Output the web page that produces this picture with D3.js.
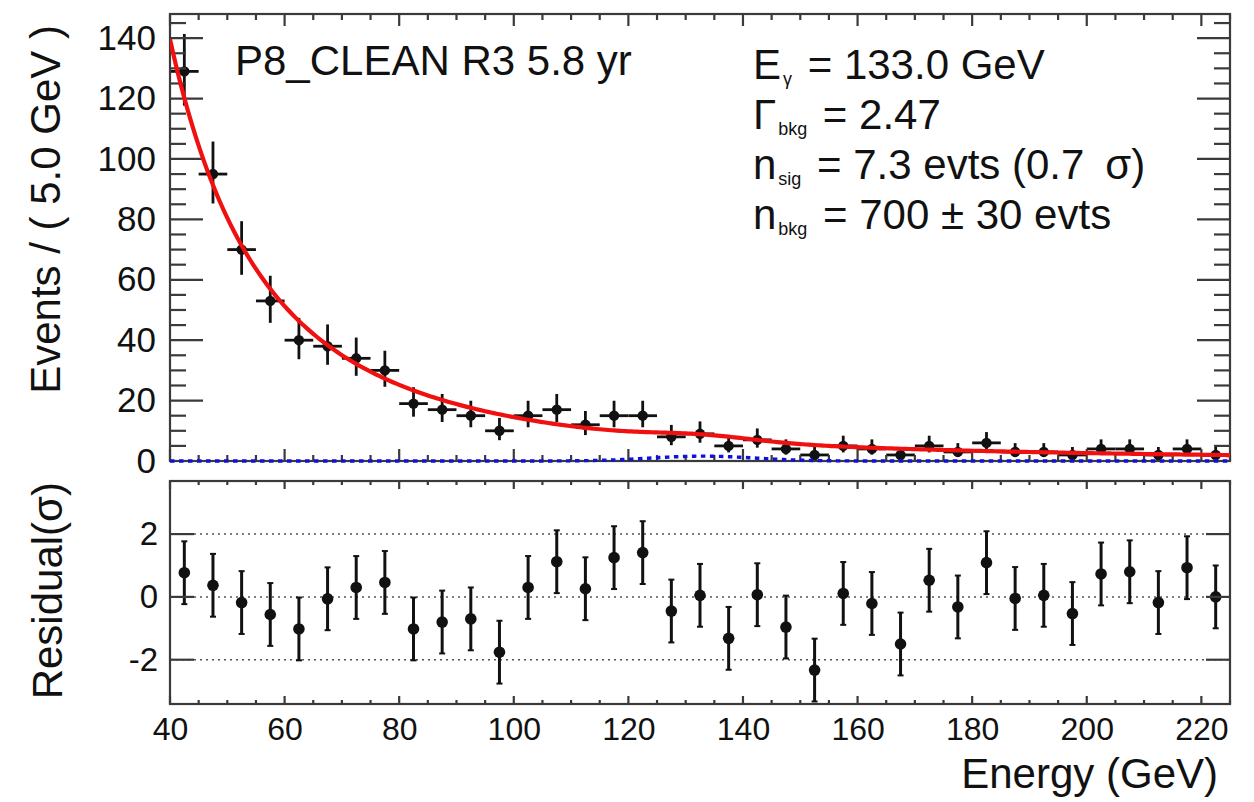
<!DOCTYPE html>
<html>
<head>
<meta charset="utf-8">
<script src="https://cdn.jsdelivr.net/npm/d3@7"></script>
<style>
  html, body { margin: 0; padding: 0; background: #fff; }
  svg { display: block; font-family: "Liberation Sans", Arial, Helvetica, sans-serif; }
</style>
</head>
<body>
<svg id="chart" width="1254" height="802"></svg>
<script>
// Binned photon energy spectrum (5 GeV bins)
const binCenters = [42.5, 47.5, 52.5, 57.5, 62.5, 67.5, 72.5, 77.5, 82.5, 87.5,
  92.5, 97.5, 102.5, 107.5, 112.5, 117.5, 122.5, 127.5, 132.5, 137.5,
  142.5, 147.5, 152.5, 157.5, 162.5, 167.5, 172.5, 177.5, 182.5, 187.5,
  192.5, 197.5, 202.5, 207.5, 212.5, 217.5, 222.5];
const counts = [129, 95, 70, 53, 40, 38, 34, 30, 19, 17,
  15, 10, 15, 17, 12, 15, 15, 8, 9, 5,
  7, 4, 2, 5, 4, 2, 5, 3, 6, 3,
  3, 2, 4, 4, 2, 4, 2];
// Poisson 68% interval (lower / upper)
const errLow = [11.35, 9.73, 8.35, 7.26, 6.30, 6.14, 5.79, 5.42, 4.33, 4.08,
  3.83, 3.11, 3.83, 4.08, 3.42, 3.83, 3.83, 2.77, 2.94, 2.16,
  2.58, 1.91, 1.29, 2.16, 1.91, 1.29, 2.16, 1.63, 2.38, 1.63,
  1.63, 1.29, 1.91, 1.91, 1.29, 1.91, 1.29];
const errHigh = [12.39, 10.77, 9.40, 8.33, 7.39, 7.22, 6.88, 6.51, 5.44, 5.20,
  4.95, 4.26, 4.95, 5.20, 4.55, 4.95, 4.95, 3.95, 4.11, 3.38,
  3.77, 3.16, 2.64, 3.38, 3.16, 2.64, 3.38, 2.92, 3.58, 2.92,
  2.92, 2.64, 3.16, 3.16, 2.64, 3.16, 2.64];
// Pull of each bin with respect to the fit
const residuals = [0.77, 0.37, -0.18, -0.56, -1.02, -0.06, 0.30, 0.46, -1.02, -0.80,
  -0.70, -1.76, 0.30, 1.12, 0.26, 1.25, 1.41, -0.45, 0.05, -1.32,
  0.07, -0.96, -2.33, 0.11, -0.21, -1.50, 0.53, -0.32, 1.09, -0.05,
  0.05, -0.53, 0.73, 0.80, -0.18, 0.93, 0.00];

// Fit results
const eGamma = 133.0;     // line energy (GeV)
const gammaBkg = 2.47;    // background spectral index
const nSig = 7.3;         // fitted signal events
const nBkg = 700;         // fitted background events
const sigmaE = 9.0;       // energy resolution at the line (GeV)
const binWidth = 5.0;
const eMin = 40, eMax = 225;

const xTicks = [40, 60, 80, 100, 120, 140, 160, 180, 200, 220];
const yTicksTop = [0, 20, 40, 60, 80, 100, 120, 140];
const yTicksRes = [-2, 0, 2];

const svg = d3.select("#chart");
const ink = "#111";
const frameColor = "#3a3a3a";
const fontFam = "Liberation Sans, Arial, sans-serif";
const intFmt = v => String(v);   // plain hyphen for negatives

// Panel geometry
const L = 170, R = 1230;
const top1 = 14, bot1 = 461;
const top2 = 481, bot2 = 704;

const x = d3.scaleLinear().domain([eMin, eMax]).range([L, R]);
const yTop = d3.scaleLinear().domain([0, 148]).range([bot1, top1]);
const yRes = d3.scaleLinear().domain([-3.41, 3.69]).range([bot2, top2]);

const minorX = d3.range(40, 226, 5).filter(v => v % 20 !== 0);
const minorYTop = d3.range(0, 148, 5).filter(v => v % 20 !== 0);

// Model: power-law background normalised to nBkg over the fit range, plus a Gaussian line
const bkgNorm = nBkg * (1 - gammaBkg) /
  (Math.pow(eMax, 1 - gammaBkg) - Math.pow(eMin, 1 - gammaBkg));
const bkg = e => bkgNorm * Math.pow(e, -gammaBkg) * binWidth;
const sig = e => nSig * binWidth / (Math.sqrt(2 * Math.PI) * sigmaE) *
  Math.exp(-0.5 * Math.pow((e - eGamma) / sigmaE, 2));
const model = e => bkg(e) + sig(e);
const curveE = d3.range(eMin, eMax + 0.001, 0.5);

// Clip paths for the two panels (upper one lets the zero-level curve show on the frame)
const defs = svg.append("defs");
defs.append("clipPath").attr("id", "clipTop")
  .append("rect").attr("x", L).attr("y", top1).attr("width", R - L).attr("height", bot1 - top1 + 3);
defs.append("clipPath").attr("id", "clipRes")
  .append("rect").attr("x", L).attr("y", top2).attr("width", R - L).attr("height", bot2 - top2);

// Inward tick marks on the frame edges
function xTickMarks(g, scale, values, yEdge, len, dir) {
  g.append("g").selectAll("line").data(values).join("line")
    .attr("x1", d => scale(d)).attr("x2", d => scale(d))
    .attr("y1", yEdge).attr("y2", yEdge + dir * len)
    .attr("stroke", frameColor).attr("stroke-width", 2.2);
}
function yTickMarks(g, scale, values, xEdge, len, dir) {
  g.append("g").selectAll("line").data(values).join("line")
    .attr("x1", xEdge).attr("x2", xEdge + dir * len)
    .attr("y1", d => scale(d)).attr("y2", d => scale(d))
    .attr("stroke", frameColor).attr("stroke-width", 2.2);
}
function labelAxis(g) {
  g.select(".domain").remove();
  g.selectAll(".tick line").remove();
  g.selectAll("text").attr("fill", ink).attr("font-family", fontFam);
}

// ---------- Upper panel ----------
const gTop = svg.append("g");

gTop.append("g").attr("transform", `translate(${L},0)`)
  .call(d3.axisLeft(yTop).tickValues(yTicksTop).tickSize(0).tickPadding(14).tickFormat(intFmt))
  .call(labelAxis)
  .call(g => g.selectAll("text").attr("font-size", 35));

// Data points with error bars
const pts = binCenters.map((c, i) => ({ c, n: counts[i], lo: errLow[i], hi: errHigh[i] }));
const gData = gTop.append("g").attr("clip-path", "url(#clipTop)");
gData.selectAll("line.ex").data(pts).join("line")
  .attr("x1", d => x(d.c - binWidth / 2)).attr("x2", d => x(d.c + binWidth / 2))
  .attr("y1", d => yTop(d.n)).attr("y2", d => yTop(d.n))
  .attr("stroke", ink).attr("stroke-width", 2.8);
gData.selectAll("line.ey").data(pts).join("line")
  .attr("x1", d => x(d.c)).attr("x2", d => x(d.c))
  .attr("y1", d => yTop(d.n - d.lo)).attr("y2", d => yTop(d.n + d.hi))
  .attr("stroke", ink).attr("stroke-width", 2.8);
gData.selectAll("circle").data(pts).join("circle")
  .attr("cx", d => x(d.c)).attr("cy", d => yTop(d.n)).attr("r", 5.2)
  .attr("fill", ink);

// Frame and ticks of the upper panel
gTop.append("rect").attr("x", L).attr("y", top1).attr("width", R - L).attr("height", bot1 - top1)
  .attr("fill", "none").attr("stroke", frameColor).attr("stroke-width", 2.2);
xTickMarks(gTop, x, xTicks, bot1, 12, -1);
xTickMarks(gTop, x, minorX, bot1, 6, -1);
xTickMarks(gTop, x, xTicks, top1, 12, 1);
xTickMarks(gTop, x, minorX, top1, 6, 1);
yTickMarks(gTop, yTop, yTicksTop, L, 33, 1);
yTickMarks(gTop, yTop, minorYTop, L, 16, 1);
yTickMarks(gTop, yTop, yTicksTop, R, 33, -1);
yTickMarks(gTop, yTop, minorYTop, R, 16, -1);

// Signal component (dotted blue) and full model (red)
gTop.append("path").attr("clip-path", "url(#clipTop)")
  .datum(curveE)
  .attr("d", d3.line().x(e => x(e)).y(e => yTop(sig(e))))
  .attr("fill", "none").attr("stroke", "#1010e0").attr("stroke-width", 3.4)
  .attr("stroke-dasharray", "4.5,4.5");
gTop.append("path").attr("clip-path", "url(#clipTop)")
  .datum(curveE)
  .attr("d", d3.line().x(e => x(e)).y(e => yTop(model(e))))
  .attr("fill", "none").attr("stroke", "#f01010").attr("stroke-width", 4.2);

// Labels in the upper panel
gTop.append("text").attr("x", 235).attr("y", 75).attr("font-size", 42).attr("fill", ink)
  .text("P8_CLEAN R3 5.8 yr");

const info = gTop.append("g").attr("font-size", 42).attr("fill", ink);
function infoLine(y, main, sub, rest) {
  const t = info.append("text").attr("x", 753).attr("y", y);
  t.append("tspan").text(main);
  t.append("tspan").attr("font-size", 18).attr("dy", 6).attr("dx", 2).text(sub);
  t.append("tspan").attr("dy", -6).attr("dx", 4).text(rest);
  return t;
}
infoLine(79, "E", "\u03b3", " = 133.0 GeV");
infoLine(129, "\u0393", "bkg", " = 2.47");
infoLine(179, "n", "sig", " = 7.3 evts (0.7\u2002\u03c3)");
infoLine(229, "n", "bkg", " = 700 \u00b1 30 evts");

svg.append("text")
  .attr("transform", `translate(60,25) rotate(-90)`)
  .attr("text-anchor", "end").attr("font-size", 42).attr("fill", ink)
  .text("Events / ( 5.0 GeV )");

// ---------- Residual panel ----------
const gRes = svg.append("g");

gRes.append("g").selectAll("line").data(yTicksRes).join("line")
  .attr("x1", L).attr("x2", R)
  .attr("y1", d => yRes(d)).attr("y2", d => yRes(d))
  .attr("stroke", "#555").attr("stroke-width", 1.5).attr("stroke-dasharray", "2,4");

gRes.append("g").attr("transform", `translate(0,${bot2})`)
  .call(d3.axisBottom(x).tickValues(xTicks).tickSize(0).tickPadding(13).tickFormat(intFmt))
  .call(labelAxis)
  .call(g => g.selectAll("text").attr("font-size", 32));
gRes.append("g").attr("transform", `translate(${L},0)`)
  .call(d3.axisLeft(yRes).tickValues(yTicksRes).tickSize(0).tickPadding(12).tickFormat(intFmt))
  .call(labelAxis)
  .call(g => g.selectAll("text").attr("font-size", 33));

const pulls = binCenters.map((c, i) => ({ c, r: residuals[i] }));
const gPull = gRes.append("g").attr("clip-path", "url(#clipRes)");
gPull.selectAll("line.bar").data(pulls).join("line")
  .attr("x1", d => x(d.c)).attr("x2", d => x(d.c))
  .attr("y1", d => yRes(d.r - 1)).attr("y2", d => yRes(d.r + 1))
  .attr("stroke", ink).attr("stroke-width", 3);
gPull.selectAll("line.capT").data(pulls).join("line")
  .attr("x1", d => x(d.c) - 3).attr("x2", d => x(d.c) + 3)
  .attr("y1", d => yRes(d.r + 1)).attr("y2", d => yRes(d.r + 1))
  .attr("stroke", ink).attr("stroke-width", 2);
gPull.selectAll("line.capB").data(pulls).join("line")
  .attr("x1", d => x(d.c) - 3).attr("x2", d => x(d.c) + 3)
  .attr("y1", d => yRes(d.r - 1)).attr("y2", d => yRes(d.r - 1))
  .attr("stroke", ink).attr("stroke-width", 2);
gPull.selectAll("circle").data(pulls).join("circle")
  .attr("cx", d => x(d.c)).attr("cy", d => yRes(d.r)).attr("r", 5.8)
  .attr("fill", ink);

gRes.append("rect").attr("x", L).attr("y", top2).attr("width", R - L).attr("height", bot2 - top2)
  .attr("fill", "none").attr("stroke", frameColor).attr("stroke-width", 2.2);
xTickMarks(gRes, x, xTicks, bot2, 8, -1);
xTickMarks(gRes, x, minorX, bot2, 4, -1);
xTickMarks(gRes, x, xTicks, top2, 8, 1);
xTickMarks(gRes, x, minorX, top2, 4, 1);
yTickMarks(gRes, yRes, yTicksRes, L, 24, 1);
yTickMarks(gRes, yRes, yTicksRes, R, 24, -1);

svg.append("text")
  .attr("transform", `translate(62,482) rotate(-90)`)
  .attr("text-anchor", "end").attr("font-size", 42).attr("fill", ink)
  .text("Residual(\u03c3)");

svg.append("text").attr("x", 1218).attr("y", 788)
  .attr("text-anchor", "end").attr("font-size", 42).attr("fill", ink)
  .text("Energy (GeV)");
</script>
</body>
</html>
